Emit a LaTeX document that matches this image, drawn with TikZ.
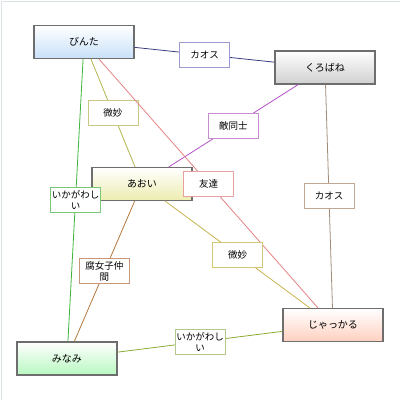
\documentclass[tikz,border=0pt]{standalone}
\usepackage{fontspec}
\setmainfont{Noto Sans CJK JP}
\definecolor{framegray}{HTML}{DDE4E8}
\definecolor{boxgray}{HTML}{6E6E6E}

\begin{document}
\begin{tikzpicture}[x=1pt, y=-1pt,
	person/.style={rectangle, draw=boxgray, line width=1.2pt, minimum width=100pt, minimum height=33pt, text=black, font=\fontsize{10}{11}\selectfont, top color=white},
	tag/.style={rectangle, fill=white, line width=0.8pt, minimum width=50pt, minimum height=25pt, inner sep=1pt, align=center, text=black, font=\fontsize{9.5}{11}\selectfont}]
	\useasboundingbox (0,0) rectangle (400,400);
	\draw [color=framegray, line width=1pt] (1,400) -- (1,1) -- (400,1);

	\node[person, bottom color={rgb,255:red,200;green,224;blue,248}](binta) at (84,42){びんた};
	\node[person, bottom color={rgb,255:red,208;green,208;blue,208}](kurobane) at (325,67.5){くろばね};
	\node[person, bottom color={rgb,255:red,236;green,236;blue,176}](aoi) at (142,184){あおい};
	\node[person, bottom color={rgb,255:red,184;green,248;blue,192}](minami) at (67,358.5){みなみ};
	\node[person, bottom color={rgb,255:red,255;green,208;blue,192}](jakkaru) at (333,325){じゃっかる};

	\draw [color={rgb,255:red,60;green,60;blue,130}, line width=0.8pt] (binta) -- node[tag, draw={rgb,255:red,154;green,154;blue,208}]{カオス}(kurobane);
	\draw [color={rgb,255:red,180;green,180;blue,80}, line width=0.8pt] (binta) -- node[tag, draw={rgb,255:red,200;green,200;blue,130}]{微妙}(aoi);
	\draw [color={rgb,255:red,180;green,80;blue,200}, line width=0.8pt] (kurobane) -- node[tag, draw={rgb,255:red,200;green,140;blue,210}]{敵同士}(aoi);
	\draw [color={rgb,255:red,230;green,130;blue,130}, line width=0.8pt] (binta) -- node[tag, draw={rgb,255:red,230;green,160;blue,160}]{友達}(jakkaru);
	\draw [color={rgb,255:red,160;green,140;blue,120}, line width=0.8pt] (kurobane) -- node[tag, draw={rgb,255:red,192;green,168;blue,150}]{カオス}(jakkaru);
	\draw [color={rgb,255:red,60;green,180;blue,60}, line width=0.8pt] (binta) -- node[tag, draw={rgb,255:red,120;green,200;blue,120}]{いかがわし\\い}(minami);
	\draw [color={rgb,255:red,200;green,180;blue,80}, line width=0.8pt] (aoi) -- node[tag, draw={rgb,255:red,210;green,200;blue,120}]{微妙}(jakkaru);
	\draw [color={rgb,255:red,180;green,120;blue,60}, line width=0.8pt] (aoi) -- node[tag, draw={rgb,255:red,200;green,150;blue,120}]{腐女子仲\\間}(minami);
	\draw [color={rgb,255:red,140;green,170;blue,50}, line width=0.8pt] (minami) -- node[tag, draw={rgb,255:red,180;green,200;blue,140}]{いかがわし\\い}(jakkaru);
\end{tikzpicture}
\end{document}
